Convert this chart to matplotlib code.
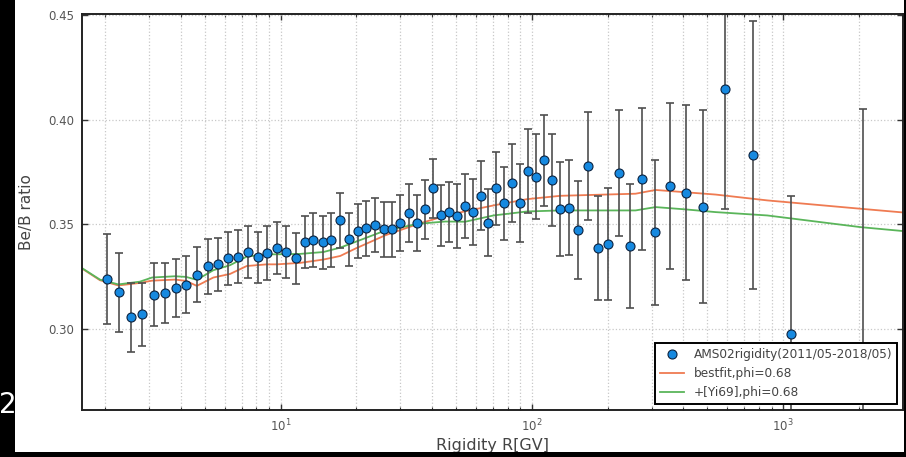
import matplotlib
matplotlib.use("Agg")
import matplotlib.pyplot as plt
from matplotlib.patches import Rectangle
import numpy as np

# AMS-02 Be/B ratio vs rigidity (bin centres in GV)
rigidity = [2.03, 2.27, 2.53, 2.82, 3.13, 3.46, 3.83, 4.22, 4.65, 5.12,
            5.63, 6.18, 6.77, 7.42, 8.11, 8.86, 9.67, 10.5, 11.5, 12.5,
            13.5, 14.7, 15.9, 17.3, 18.7, 20.3, 21.9, 23.7, 25.7, 27.7,
            29.9, 32.3, 34.8, 37.5, 40.4, 43.5, 46.8, 50.3, 54.1, 58.2,
            62.5, 67.2, 72.3, 77.6, 83.4, 89.7, 96.4, 104, 112, 120,
            130, 141, 153, 167, 183, 201, 222, 246, 275, 310,
            354, 409, 481, 589, 762, 1070, 2070]
ratio = [0.3237, 0.3174, 0.3054, 0.3069, 0.3162, 0.3170, 0.3193, 0.3211, 0.3259, 0.3298,
         0.3308, 0.3338, 0.3345, 0.3366, 0.3341, 0.3362, 0.3385, 0.3366, 0.3337, 0.3414,
         0.3426, 0.3414, 0.3424, 0.3518, 0.3428, 0.3468, 0.3480, 0.3496, 0.3476, 0.3476,
         0.3506, 0.3552, 0.3506, 0.3572, 0.3672, 0.3543, 0.3558, 0.3540, 0.3588, 0.3558,
         0.3637, 0.3507, 0.3671, 0.3601, 0.3699, 0.3602, 0.3755, 0.3728, 0.3806, 0.3712,
         0.3572, 0.3580, 0.3472, 0.3778, 0.3387, 0.3406, 0.3745, 0.3395, 0.3718, 0.3462,
         0.3685, 0.3651, 0.3584, 0.4149, 0.3832, 0.2973, 0.2350]
ratio_err = [0.0215, 0.0190, 0.0164, 0.0151, 0.0151, 0.0145, 0.0139, 0.0135, 0.0131, 0.0130,
             0.0128, 0.0127, 0.0128, 0.0124, 0.0124, 0.0128, 0.0125, 0.0124, 0.0122, 0.0125,
             0.0130, 0.0126, 0.0129, 0.0131, 0.0128, 0.0128, 0.0130, 0.0131, 0.0131, 0.0131,
             0.0134, 0.0139, 0.0134, 0.0142, 0.0142, 0.0145, 0.0145, 0.0153, 0.0152, 0.0157,
             0.0164, 0.0160, 0.0173, 0.0175, 0.0186, 0.0185, 0.0199, 0.0203, 0.0217, 0.0219,
             0.0224, 0.0226, 0.0233, 0.0260, 0.0250, 0.0269, 0.0303, 0.0298, 0.0340, 0.0347,
             0.0397, 0.0419, 0.0463, 0.0575, 0.0641, 0.0660, 0.1700]

# Model curves
model_rigidity = [1.62, 1.91, 2.26, 2.75, 3.08, 3.80, 4.20, 4.64, 5.40, 6.29,
                  7.33, 8.81, 9.66, 11.96, 14.81, 17.26, 19.81, 26.09, 35.4, 45.2,
                  54.3, 70.4, 95.7, 129.9, 171.1, 258.5, 310.5, 408.8, 538.4, 865,
                  2036, 3020]
bestfit = [0.3288, 0.3232, 0.3207, 0.3219, 0.3230, 0.3235, 0.3229, 0.3205, 0.3245, 0.3262,
           0.3300, 0.3308, 0.3308, 0.3315, 0.3331, 0.3348, 0.3383, 0.3447, 0.3502, 0.3540,
           0.3562, 0.3590, 0.3620, 0.3636, 0.3640, 0.3646, 0.3664, 0.3653, 0.3642, 0.3614,
           0.3574, 0.3556]
yi69 = [0.3290, 0.3235, 0.3212, 0.3225, 0.3245, 0.3251, 0.3248, 0.3234, 0.3280, 0.3304,
        0.3345, 0.3356, 0.3356, 0.3358, 0.3367, 0.3388, 0.3415, 0.3470, 0.3502, 0.3513,
        0.3512, 0.3542, 0.3561, 0.3566, 0.3566, 0.3566, 0.3582, 0.3571, 0.3558, 0.3542,
        0.3486, 0.3467]

W, H = 906, 457
fig = plt.figure(figsize=(W / 100, H / 100), dpi=100)
fig.patch.set_facecolor("white")

# dark frame around the figure
fig.patches.append(Rectangle((0, 0), 15 / W, 1, transform=fig.transFigure,
                             facecolor="black", edgecolor="none", zorder=0))
fig.patches.append(Rectangle((0, 0), 1, 5 / H, transform=fig.transFigure,
                             facecolor="black", edgecolor="none", zorder=0))
fig.patches.append(Rectangle((904 / W, 0), 2 / W, 1, transform=fig.transFigure,
                             facecolor="black", edgecolor="none", zorder=0))
fig.text(-1 / W, 1 - 413 / H, "2.", color="white", fontsize=20,
         ha="left", va="baseline")

ax = fig.add_axes([82 / W, 1 - 410 / H, (903 - 82) / W, (410 - 14) / H])
ax.set_xscale("log")
ax.set_xlim(1.62, 3000)
ax.set_ylim(0.2611, 0.4506)

ax.grid(True, which="major", axis="both", color="#c8c8c8", linestyle=":", linewidth=0.9)
ax.grid(True, which="minor", axis="x", color="#c8c8c8", linestyle=":", linewidth=0.9)
ax.set_axisbelow(True)

ax.plot(model_rigidity, bestfit, color="#ef7b52", linewidth=1.3, zorder=1.5,
        label="bestfit,phi=0.68")
ax.plot(model_rigidity, yi69, color="#5ab55a", linewidth=1.3, zorder=1.6,
        label="+[Yi69],phi=0.68")

ax.errorbar(rigidity, ratio, yerr=ratio_err, fmt="none", ecolor="#4f4f4f",
            elinewidth=1.2, capsize=3, capthick=1.2, zorder=2)
pts, = ax.plot(rigidity, ratio, "o", markerfacecolor="#1689e0",
               markeredgecolor="#0b2340", markeredgewidth=0.8, markersize=6.5,
               zorder=3, label="AMS02rigidity(2011/05-2018/05)")

ax.set_yticks([0.30, 0.35, 0.40, 0.45])
ax.set_yticklabels(["0.30", "0.35", "0.40", "0.45"])
ax.tick_params(which="both", direction="in", top=True, right=True,
               labelsize=8.5, labelcolor="#555555", color="#333333", pad=5.5)
ax.tick_params(which="major", length=4, width=1)
ax.tick_params(which="minor", length=2, width=0.8)
for s in ax.spines.values():
    s.set_linewidth(1.4)
    s.set_color("#222222")

ax.set_xlabel("Rigidity R[GV]", fontsize=11.5, color="#444444", labelpad=2.5)
ax.set_ylabel("Be/B ratio", fontsize=11, color="#444444", labelpad=10)

handles, labels = ax.get_legend_handles_labels()
order = [labels.index("AMS02rigidity(2011/05-2018/05)"),
         labels.index("bestfit,phi=0.68"), labels.index("+[Yi69],phi=0.68")]
leg = ax.legend([handles[i] for i in order], [labels[i] for i in order],
                loc="lower right", fontsize=8.7, numpoints=1, fancybox=False,
                framealpha=1, edgecolor="black", borderaxespad=0.5)
leg.get_frame().set_linewidth(1.4)
for t in leg.get_texts():
    t.set_color("#444444")

fig.savefig("out.png", dpi=100)
